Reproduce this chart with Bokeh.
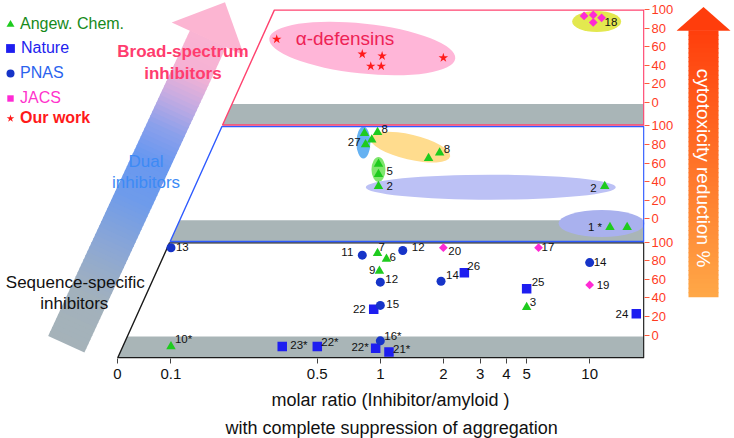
import math
from bokeh.plotting import figure
from bokeh.models import (ColumnDataSource, Range1d, FixedTicker, CustomJSTickFormatter,
                          Title, Legend, LegendItem)
from bokeh.layouts import row
from bokeh.embed import file_html
from bokeh.resources import INLINE
from bokeh.core.properties import value

FONT = "Liberation Sans"

# ---------------- data ----------------
# panel 0 = sequence-specific, 1 = dual, 2 = broad-spectrum inhibitors
# cytotoxicity values below 0 lie in the grey "no reduction" band
angew_ratio = [0.84, 0.97, 0.91, 0.85, 1.70, 1.92, 0.98, 0.98, 0.98, 11.8, 12.5, 15.1,
               0.97, 1.07, 0.99, 5.0, 0.10]
angew_cyto = [92, 93, 85, 80, 65, 71, 59, 48, 35, 35, -9, -9,
              88, 82, 69, 30, -12]
angew_panel = [1, 1, 1, 1, 1, 1, 1, 1, 1, 1, 1, 1,
               0, 0, 0, 0, 0]
angew_label = ["", "8", "", "27", "", "8", "", "5", "2", "2", "1 *", "",
               "7", "6", "9", "3", "10*"]

nature_ratio = [0.93, 2.52, 5.0, 16.7, 0.34, 0.50, 0.95, 1.10]
nature_cyto = [28, 67, 50, 23, -12, -12, -14, -18]
nature_panel = [0, 0, 0, 0, 0, 0, 0, 0]
nature_label = ["22", "26", "25", "24", "23*", "22*", "22*", "21*"]

pnas_ratio = [0.10, 0.82, 1.28, 1.0, 1.95, 1.0, 1.0, 10.0]
pnas_cyto = [94, 86, 91, 57, 58, 32, -6, 78]
pnas_panel = [0, 0, 0, 0, 0, 0, 0, 0]
pnas_label = ["13", "11", "12", "12", "14", "15", "16*", "14"]

jacs_ratio = [9.4, 10.4, 10.4, 11.4, 2.0, 5.7, 10.0]
jacs_cyto = [93, 94, 86, 91, 94, 94, 54]
jacs_panel = [2, 2, 2, 2, 0, 0, 0]
jacs_label = ["", "", "", "18", "20", "17", "19"]

our_ratio = [0.32, 0.82, 1.02, 0.90, 1.01, 2.0]
our_cyto = [68, 52, 50, 39, 39, 48]
our_panel = [2, 2, 2, 2, 2, 2]
our_label = ["α-defensins", "", "", "", "", ""]

# highlighted groups (ellipse centres)
group_ratio = [0.82, 10.8, 0.83, 1.39, 0.98, 3.37, 11.4]
group_cyto = [58, 87, 82, 77, 53, 34, -5]
group_panel = [2, 2, 1, 1, 1, 1, 1]

x_tick_values = [0, 0.1, 0.5, 1, 2, 3, 4, 5, 10]
x_tick_labels = ["0", "0.1", "0.5", "1", "2", "3", "4", "5", "10"]
y_tick_values = [0, 20, 40, 60, 80, 100]

panel_texts = [["Sequence-specific", "inhibitors"], ["Dual", "inhibitors"],
               ["Broad-spectrum", "inhibitors"]]

# ---------------- styles / layout ----------------
angew_off = [(0, 0, "l"), (4, -3, "l"), (0, 0, "l"), (-5, -2, "r"), (0, 0, "l"), (4, -4, "l"),
             (0, 0, "l"), (8, -3, "l"), (8, 0, "l"), (-8, 2, "r"), (-8, 0, "r"), (0, 0, "l"),
             (1, -6, "l"), (3, -2, "l"), (-4, -1, "r"), (3, -5, "l"), (4, -7, "l")]
nature_off = [(-8, 0, "r"), (3, -7, "l"), (5, -7, "l"), (-8, 0, "r"), (8, -1, "l"),
              (4, -4, "l"), (-7, -1, "r"), (4, -3, "l")]
pnas_off = [(5, -1, "l"), (-9, -3, "r"), (9, -4, "l"), (5, -3, "l"), (5, -6, "l"),
            (6, -1, "l"), (4, -5, "l"), (4, -1, "l")]
jacs_off = [(0, 0, "l"), (0, 0, "l"), (0, 0, "l"), (3, 4, "l"), (5, 3, "l"), (3, -1, "l"), (7, 0, "l")]

group_w = [187, 49, 14, 82, 14, 250, 86]
group_h = [50, 21, 32, 25, 25, 25, 27]
group_angle = [-0.107, 0, 0, -0.231, 0, 0, 0]
group_color = ["#ffb6d8", "#e3e84f", "#66b2f2", "#ffdc8e", "#80e66e", "#bcc1f5", "#a9b1ee"]

C_ANGEW, C_NATURE, C_PNAS, C_JACS, C_OUR = "#1ecb1e", "#1e1ef0", "#1634c8", "#ff2ad4", "#ff1a1a"

PANEL = 125
X1_PX, DEC_PX = 381.0, 210.0          # page px of ratio 1, px per decade
BOTTOM_PX, TOP_PX = 362.0, 9.0
S = (BOTTOM_PX - TOP_PX) / 375.0


def px2x(px):
    return 10 ** ((px - X1_PX) / DEC_PX)


def py2y(py):
    return -25 + (BOTTOM_PX - py) / S


def y2py(y):
    return BOTTOM_PX - (y + 25) * S


def edge_px(py):
    return 117.3 + (275.0 - 117.3) * (BOTTOM_PX - py) / (BOTTOM_PX - TOP_PX)


def lerp(stops, f):
    f = max(0.0, min(1.0, f))
    for (f0, c0), (f1, c1) in zip(stops, stops[1:]):
        if f <= f1:
            u = (f - f0) / (f1 - f0) if f1 > f0 else 0
            return "#%02x%02x%02x" % tuple(int(round(a + (b - a) * u)) for a, b in zip(c0, c1))
    return "#%02x%02x%02x" % stops[-1][1]


x_zero = px2x(117.3)
x_tick_pos = [x_zero if v == 0 else v for v in x_tick_values]

p = figure(width=676, height=438, x_axis_type="log", y_axis_location="right",
           x_range=Range1d(px2x(0), px2x(646)), y_range=Range1d(py2y(362), py2y(0)),
           output_backend="svg", toolbar_location=None,
           min_border_left=0, min_border_top=0, min_border_right=30, min_border_bottom=76)
p.outline_line_color = None
p.grid.visible = False
p.background_fill_color = "white"
p.border_fill_color = "white"

xa = p.xaxis[0]
xa.ticker = FixedTicker(ticks=x_tick_pos)
xa.formatter = CustomJSTickFormatter(args=dict(pos=x_tick_pos, labels=x_tick_labels), code="""
for (let i = 0; i < pos.length; i++) {
  if (Math.abs(Math.log10(tick) - Math.log10(pos[i])) < 1e-6) return labels[i];
}
return "";
""")
xa.axis_line_color = None
xa.major_tick_line_color = "#444444"
xa.major_tick_out = 5
xa.major_tick_in = 0
xa.minor_tick_line_color = None
xa.major_label_text_font = FONT
xa.major_label_text_font_size = "15px"
xa.major_label_text_color = "#111111"
xa.major_label_standoff = 5

ya = p.yaxis[0]
ya.ticker = FixedTicker(ticks=[k * PANEL + v for k in range(3) for v in y_tick_values])
ya.formatter = CustomJSTickFormatter(code="""
const v = tick - 125 * Math.floor(tick / 125 + 1e-9);
return String(Math.round(v));
""")
ya.axis_line_color = None
ya.major_tick_line_color = "#ff5a3c"
ya.major_tick_out = 5
ya.major_tick_in = 0
ya.minor_tick_line_color = None
ya.major_label_text_font = FONT
ya.major_label_text_font_size = "13px"
ya.major_label_text_color = "#ff3b1f"
ya.major_label_standoff = 2

p.add_layout(Title(text="molar ratio  (Inhibitor/amyloid )", align="left", offset=271, standoff=12,
                   text_font=FONT, text_font_size="18px", text_font_style="normal",
                   text_color="#111111"), "below")
p.add_layout(Title(text="with complete suppression of aggregation", align="left", offset=225,
                   standoff=1, text_font=FONT, text_font_size="18px", text_font_style="normal",
                   text_color="#111111"), "below")

# ---------- big gradient arrow on the left ----------
T = (66.0, 347.5)
d = (0.418, -0.908)
n = (0.908, 0.418)
SHAFT, HEAD, HW_S, HW_H = 339.8, 41.0, 20.0, 40.0
arrow_stops = [(0.0, (165, 178, 185)), (0.14, (162, 177, 188)), (0.28, (140, 167, 212)),
               (0.43, (110, 155, 235)), (0.54, (105, 152, 240)), (0.63, (140, 160, 235)),
               (0.72, (200, 172, 225)), (0.80, (245, 178, 212)), (1.0, (255, 182, 210))]


def pt(s, w):
    return (T[0] + s * d[0] + w * n[0], T[1] + s * d[1] + w * n[1])


NS = 72
axs, ays, acs = [], [], []
for i in range(NS):
    s0 = max(0.0, SHAFT * i / NS - 0.6)
    s1 = SHAFT * (i + 1) / NS + 0.6
    pts = [pt(s0, -HW_S), pt(s1, -HW_S), pt(s1, HW_S), pt(s0, HW_S)]
    axs.append([px2x(a) for a, b in pts])
    ays.append([py2y(b) for a, b in pts])
    acs.append(lerp(arrow_stops, SHAFT * (i + 0.5) / NS / (SHAFT + HEAD)))
hp = [pt(SHAFT, -HW_H), pt(SHAFT, HW_H), pt(SHAFT + HEAD, 0)]
axs.append([px2x(a) for a, b in hp])
ays.append([py2y(b) for a, b in hp])
acs.append(lerp(arrow_stops, 0.95))
p.patches(axs, ays, fill_color=acs, line_color=None)

# ---------- panels (skewed) ----------
panel_line = ["#1a1a1a", "#2f5bff", "#ff4470"]
gxs, gys, oxs, oys = [], [], [], []
for k in range(3):
    pb = y2py(k * PANEL - 25) - 0.7
    ptop = y2py(k * PANEL + 100) + 0.7
    pg = y2py(k * PANEL - 1.5)
    RX = 645.3
    g = [(edge_px(pb), pb), (RX, pb), (RX, pg), (edge_px(pg), pg)]
    o = [(edge_px(pb), pb), (RX, pb), (RX, ptop), (edge_px(ptop), ptop)]
    gxs.append([px2x(a) for a, b in g])
    gys.append([py2y(b) for a, b in g])
    oxs.append([px2x(a) for a, b in o])
    oys.append([py2y(b) for a, b in o])
p.patches(gxs, gys, fill_color="#a9b5b7", line_color=None)

# ---------- highlight ellipses ----------
esrc = ColumnDataSource(dict(x=group_ratio,
                             y=[k * PANEL + v for v, k in zip(group_cyto, group_panel)],
                             w=group_w, h=group_h, a=group_angle, c=group_color))
p.ellipse(x="x", y="y", width="w", height="h", angle="a", source=esrc,
          width_units="screen", height_units="screen", fill_color="c", line_color=None)

p.patches(oxs, oys, fill_color=None, line_color=panel_line, line_width=1.4)


# ---------- data points ----------
def yvals(cyto, panel):
    return [k * PANEL + v for v, k in zip(cyto, panel)]


r_angew = p.scatter(angew_ratio, yvals(angew_cyto, angew_panel), marker="triangle", size=9.5,
                    fill_color=C_ANGEW, line_color=None)
r_nature = p.scatter(nature_ratio, yvals(nature_cyto, nature_panel), marker="square", size=9.5,
                     fill_color=C_NATURE, line_color=None)
r_pnas = p.scatter(pnas_ratio, yvals(pnas_cyto, pnas_panel), marker="circle", size=9,
                   fill_color=C_PNAS, line_color=None)
r_jacs = p.scatter(jacs_ratio, yvals(jacs_cyto, jacs_panel), marker="square", size=6.2,
                   angle=math.pi / 4, fill_color=C_JACS, line_color=None)
r_our = p.scatter(our_ratio, yvals(our_cyto, our_panel), marker="star", size=10,
                  fill_color=C_OUR, line_color=None)

# ---------- point labels ----------
lab = {"l": dict(x=[], y=[], t=[], dx=[], dy=[]), "r": dict(x=[], y=[], t=[], dx=[], dy=[])}
for ratios, cyto, panel, labels, offs in [
        (angew_ratio, angew_cyto, angew_panel, angew_label, angew_off),
        (nature_ratio, nature_cyto, nature_panel, nature_label, nature_off),
        (pnas_ratio, pnas_cyto, pnas_panel, pnas_label, pnas_off),
        (jacs_ratio, jacs_cyto, jacs_panel, jacs_label, jacs_off)]:
    for r, v, k, t, (dx, dy, al) in zip(ratios, cyto, panel, labels, offs):
        if t:
            dct = lab[al]
            dct["x"].append(r)
            dct["y"].append(k * PANEL + v)
            dct["t"].append(t)
            dct["dx"].append(dx)
            dct["dy"].append(dy)
for al, align in [("l", "left"), ("r", "right")]:
    p.text(x="x", y="y", text="t", x_offset="dx", y_offset="dy",
           source=ColumnDataSource(lab[al]), text_font=value(FONT), text_font_size="11.5px",
           text_color="#111111", text_align=align, text_baseline="middle")

# group label of our work
p.text(x=[our_ratio[0]], y=[our_panel[0] * PANEL + our_cyto[0]], text=[our_label[0]],
       x_offset=19, y_offset=-1, text_font=value(FONT), text_font_size="19px",
       text_color="#ee2255", text_align="left", text_baseline="middle")


# ---------- side labels ----------
def page_text(items, size, color, style="normal"):
    src = ColumnDataSource(dict(x=[px2x(a) for t, a, b in items], y=[py2y(b) for t, a, b in items],
                                t=[t for t, a, b in items]))
    p.text(x="x", y="y", text="t", source=src, text_font=value(FONT), text_font_size=size,
           text_color=color, text_font_style=style, text_align="center", text_baseline="middle")


page_text([(panel_texts[2][0], 183, 52), (panel_texts[2][1], 183, 74)], "17px", "#ff3c6e", "bold")
page_text([(panel_texts[1][0], 146, 163), (panel_texts[1][1], 146, 184)], "17px", "#3d8af5")
page_text([(panel_texts[0][0], 75, 285), (panel_texts[0][1], 74, 306)], "17px", "#111111")

# ---------- legends ----------
legend_specs = [
    (r_angew, "Angew. Chem.", "#178a1a", 24, 20, "normal"),
    (r_nature, "Nature", "#2222ee", 48, 22, "normal"),
    (r_pnas, "PNAS", "#2a63ee", 73, 20, "normal"),
    (r_jacs, "JACS", "#ff33cc", 97, 16, "normal"),
    (r_our, "Our work", "#ff1a1a", 118, 20, "bold"),
]
for r, txt, col, yc, g, st in legend_specs:
    H = max(g, 18)
    yc_adj = yc + 4
    lg = Legend(items=[LegendItem(label=txt, renderers=[r])],
                location=(10 - g / 2, 362 - yc_adj + g / 2 - H),
                glyph_width=g, glyph_height=g, label_height=g, label_standoff=int(round(10 - g / 2)),
                padding=0, margin=0, spacing=0, border_line_color=None, background_fill_alpha=0,
                label_text_font=FONT, label_text_font_size="16px", label_text_color=col,
                label_text_font_style=st)
    p.add_layout(lg)

# ---------- right-hand arrow figure ----------
q = figure(width=58, height=438, x_range=Range1d(0, 58), y_range=Range1d(0, 438),
           output_backend="svg", toolbar_location=None, x_axis_location=None,
           y_axis_location=None, min_border=0)
q.outline_line_color = None
q.grid.visible = False


def bx(px):
    return px - 676


def by(py):
    return 438 - py


CX, HH, SH = 703.0, 27.0, 15.0
APEX, BASE, BOT = 8.0, 37.0, 363.0
ostops = [(0.0, (255, 62, 12)), (0.5, (255, 115, 40)), (1.0, (255, 168, 72))]
qxs, qys, qcs = [], [], []
NO = 60
for i in range(NO):
    y0 = BASE + (BOT - BASE) * i / NO - 0.6
    y1 = BASE + (BOT - BASE) * (i + 1) / NO + 0.6
    y0 = max(y0, BASE - 1)
    y1 = min(y1, BOT)
    qxs.append([bx(CX - SH), bx(CX + SH), bx(CX + SH), bx(CX - SH)])
    qys.append([by(y0), by(y0), by(y1), by(y1)])
    qcs.append(lerp(ostops, (i + 0.5) / NO))
qxs.append([bx(CX - HH), bx(CX + HH), bx(CX)])
qys.append([by(BASE), by(BASE), by(APEX)])
qcs.append("#ff3d0c")
q.patches(qxs, qys, fill_color=qcs, line_color=None)
q.text(x=[bx(CX)], y=[by(205)], text=["cytotoxicity reduction %"], angle=-math.pi / 2,
       text_font=value(FONT), text_font_size="19px", text_color="white",
       text_align="center", text_baseline="middle")

layout = row(p, q)
open("out.html", "w").write(file_html(layout, INLINE))
